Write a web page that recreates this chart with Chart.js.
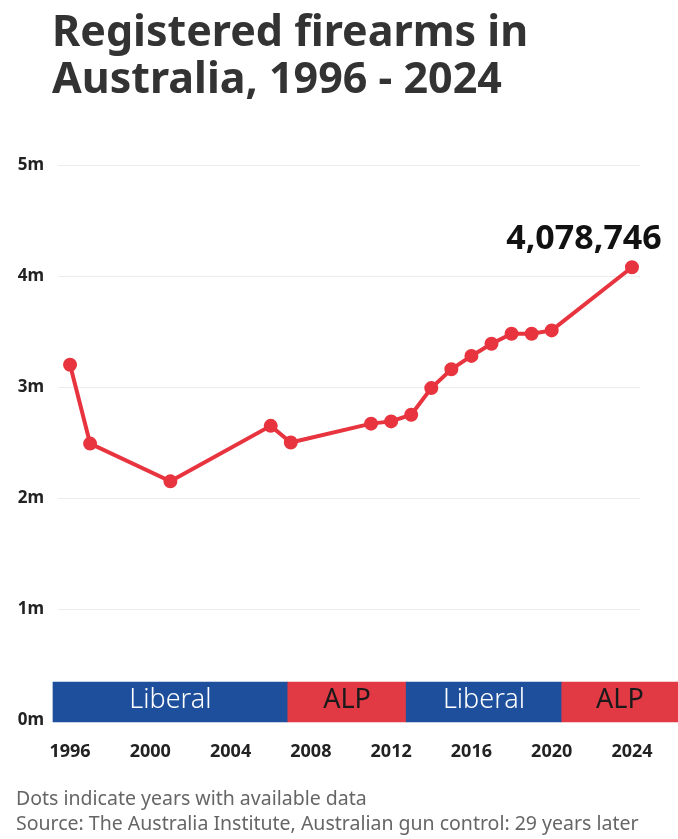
<!DOCTYPE html>
<html>
<head>
<meta charset="utf-8">
<title>Registered firearms in Australia, 1996 - 2024</title>
<script src="https://cdn.jsdelivr.net/npm/chart.js@4.4.1/dist/chart.umd.min.js"></script>
<style>
  html, body { margin: 0; padding: 0; background: #fff; }
  #wrap { position: relative; width: 678px; height: 839px; overflow: hidden; }
  #chart { position: absolute; left: 0; top: 0; }
  h1 {
    position: absolute; left: 52px; top: 6px; margin: 0;
    font: 700 43px/47px "Noto Sans", sans-serif; color: #333;
  }
  .note {
    position: absolute; left: 16px; top: 785px; margin: 0;
    font: 400 19.5px/25px "Noto Sans", sans-serif; color: #666;
  }
</style>
</head>
<body>
<div id="wrap">
  <canvas id="chart" width="678" height="839"></canvas>
  <h1>Registered firearms in<br>Australia, 1996 - 2024</h1>
  <p class="note">Dots indicate years with available data<br>Source: The Australia Institute, Australian gun control: 29 years later</p>
</div>
<script>
// years with data, and registered firearms in each
const years = [1996, 1997, 2001, 2006, 2007, 2011, 2012, 2013, 2014, 2015, 2016, 2017, 2018, 2019, 2020, 2024];
const firearms = [3200000, 2490000, 2150000, 2650000, 2500000, 2670000, 2690000, 2750000,
                  2990000, 3160000, 3280000, 3390000, 3480000, 3480000, 3510000, 4078746];

const xTickYears = [1996, 2000, 2004, 2008, 2012, 2016, 2020, 2024];
const yTickValues = [0, 1000000, 2000000, 3000000, 4000000, 5000000];

// party in government (band along the bottom)
const partyNames = ['Liberal', 'ALP', 'Liberal', 'ALP'];
const partyFrom = [1995.15, 2006.85, 2012.75, 2020.5];
const partyTo = [2006.85, 2012.75, 2020.5, 2026.3];

const RED = '#e8343f';
const BLUE = '#1d4f9c';
const ALP_RED = '#e23a45';
const BAND_Y = 162000;

// writes party names on the band, and the last value over its dot
const labelsPlugin = {
    id: 'labels',
    afterDatasetsDraw(chart) {
        const ctx = chart.ctx;
        const band = chart.getDatasetMeta(1);
        ctx.save();
        ctx.textAlign = 'center';
        ctx.textBaseline = 'middle';
        band.data.forEach((el, i) => {
            const p = el.getProps(['x', 'base', 'y'], true);
            const alp = partyNames[i] === 'ALP';
            ctx.font = (alp ? '400' : '300') + ' 27px "Noto Sans"';
            ctx.fillStyle = alp ? '#1a1a1a' : '#ffffff';
            ctx.fillText(partyNames[i], (p.x + p.base) / 2, p.y - 2);
        });

        const line = chart.getDatasetMeta(0);
        const last = line.data[line.data.length - 1];
        ctx.font = 'bold 34px "Noto Sans"';
        ctx.fillStyle = '#111';
        ctx.fillText(firearms[firearms.length - 1].toLocaleString('en-US'), last.x - 48, last.y - 28);
        ctx.restore();
    }
};

new Chart(document.getElementById('chart'), {
    type: 'line',
    data: {
        datasets: [
            {
                type: 'line',
                data: years.map((y, i) => ({ x: y, y: firearms[i] })),
                borderColor: RED,
                backgroundColor: RED,
                borderWidth: 4,
                pointRadius: 5,
                pointHoverRadius: 5,
                tension: 0,
                order: 0
            },
            {
                type: 'bar',
                indexAxis: 'y',
                data: partyFrom.map((f, i) => ({ x: [f, partyTo[i]], y: BAND_Y })),
                backgroundColor: partyNames.map(n => (n === 'ALP' ? ALP_RED : BLUE)),
                borderWidth: 0,
                barThickness: 40,
                clip: false,
                order: 1
            }
        ]
    },
    options: {
        responsive: false,
        animation: false,
        devicePixelRatio: 1,
        layout: { padding: { left: 0, right: 38, top: 165, bottom: 59 } },
        plugins: {
            legend: { display: false },
            tooltip: { enabled: false },
            title: { display: false }
        },
        scales: {
            x: {
                type: 'linear',
                min: 1995.4,
                max: 2024.4,
                offset: false,
                afterBuildTicks: s => { s.ticks = xTickYears.map(v => ({ value: v })); },
                afterFit: s => { s.height = 60; },
                grid: { display: false },
                border: { display: false },
                ticks: {
                    padding: 13,
                    color: '#222',
                    font: { family: 'Noto Sans', weight: 'bold', size: 18 },
                    maxRotation: 0,
                    autoSkip: false,
                    callback: v => String(v)
                }
            },
            y: {
                type: 'linear',
                min: 0,
                max: 5000000,
                offset: false,
                afterBuildTicks: s => { s.ticks = yTickValues.map(v => ({ value: v })); },
                afterFit: s => { s.width = 58; },
                grid: { color: '#ececec', lineWidth: 1, drawTicks: false, offset: false },
                border: { display: false },
                ticks: {
                    padding: 14,
                    color: '#222',
                    font: { family: 'Noto Sans', weight: 'bold', size: 17 },
                    callback: v => (v / 1000000) + 'm'
                }
            }
        }
    },
    plugins: [labelsPlugin]
});
</script>
</body>
</html>
